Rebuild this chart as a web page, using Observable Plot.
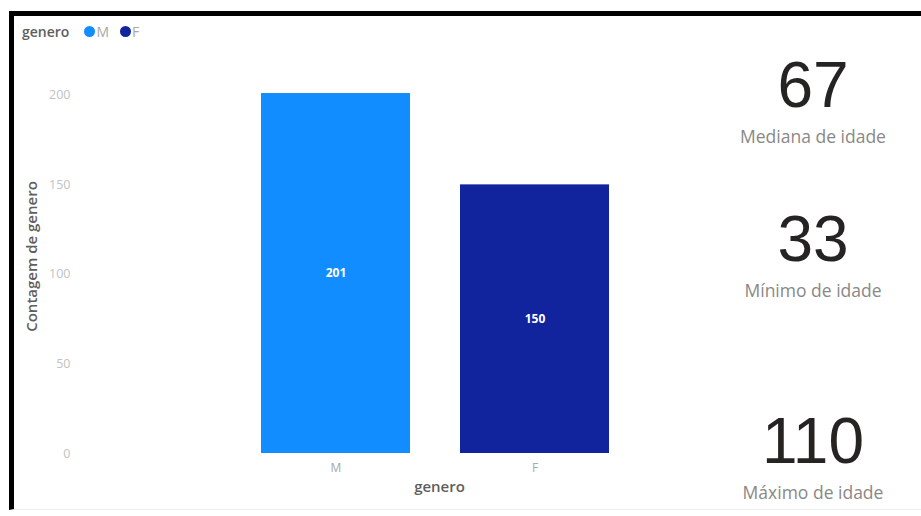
<!DOCTYPE html>
<html>
<head>
<meta charset="utf-8">
<script src="https://cdn.jsdelivr.net/npm/d3@7"></script>
<script src="https://cdn.jsdelivr.net/npm/@observablehq/plot@0.6"></script>
<style>
  html, body { margin: 0; padding: 0; background: #fff; }
  #wrap { position: relative; width: 921px; height: 516px; overflow: hidden; background: #fff; font-family: "Open Sans", "Noto Sans", sans-serif; }
  #frame { position: absolute; left: 9px; top: 11px; width: 940px; height: 499px; border-left: 5px solid #000; border-top: 5px solid #000; border-bottom: 1px solid #eeeeee; box-sizing: border-box; }
  #chart { position: absolute; left: 0; top: 0; }
  .legend { position: absolute; left: 22px; top: 22px; font-size: 14px; display: flex; align-items: center; white-space: nowrap; }
  .legend .ttl { font-weight: 600; color: #605e5c; margin-right: 15px; }
  .legend .dot { width: 11px; height: 11px; border-radius: 50%; display: inline-block; margin-right: 1px; }
  .legend .lab { color: #a8a8a8; margin-right: 11px; }
  .kpi { position: absolute; left: 713px; width: 200px; text-align: center; }
  .kpi .num { font-family: "Liberation Sans Narrow", "Liberation Sans", sans-serif; font-size: 64px; line-height: 64px; color: #252423; }
  .kpi .lbl { font-family: "Open Sans", sans-serif; font-size: 17.5px; line-height: 20px; color: #8a8886; margin-top: 9px; }
</style>
</head>
<body>
<div id="wrap">
  <div id="frame"></div>
  <div id="chart"></div>
  <div class="legend" id="legend"></div>
  <div id="kpis"></div>
</div>
<script>
// ---- data ----
const generos = ["M", "F"];
const contagens = [201, 150];
const cores = ["#118DFF", "#12239E"];
const yTicks = [0, 50, 100, 150, 200];
const kpiValores = ["67", "33", "110"];
const kpiRotulos = ["Mediana de idade", "Mínimo de idade", "Máximo de idade"];
const kpiTopos = [53, 207, 409];

const data = generos.map((g, i) => ({genero: g, contagem: contagens[i]}));

const chart = Plot.plot({
  width: 921,
  height: 516,
  marginLeft: 73,
  marginRight: 262,
  marginTop: 59,
  marginBottom: 63,
  style: { fontFamily: "Open Sans, Noto Sans, sans-serif", background: "transparent", overflow: "visible" },
  x: { domain: generos, padding: 0.25, insetLeft: 138 },
  y: { domain: [0, 220] },
  color: { domain: generos, range: cores },
  marks: [
    Plot.barY(data, { x: "genero", y: "contagem", fill: "genero" }),
    Plot.text(data, { x: "genero", y: d => d.contagem / 2, text: d => String(d.contagem), fill: "#ffffff", fontWeight: 700, fontSize: 12 }),
    Plot.axisY({ ticks: yTicks, tickSize: 0, tickPadding: 3, fontSize: 12.5, color: "#c2c2c2", label: "Contagem de genero", labelAnchor: "center", labelOffset: 47, labelArrow: "none" }),
    Plot.axisX({ tickSize: 0, tickPadding: 10, fontSize: 12, color: "#a8a8a8", label: null }),
    Plot.text(["genero"], { frameAnchor: "bottom", dx: 73, dy: 38, fontSize: 15, fontWeight: 600, fill: "#605e5c" })
  ]
});
document.getElementById("chart").appendChild(chart);
chart.querySelectorAll("text").forEach(t => {
  if (t.textContent === "Contagem de genero") { t.setAttribute("fill", "#605e5c"); t.setAttribute("font-weight", "600"); t.setAttribute("font-size", "15"); }
});

// legend
const lg = document.getElementById("legend");
lg.innerHTML = `<span class="ttl">genero</span>` + generos.map((g, i) =>
  `<span class="dot" style="background:${cores[i]}"></span><span class="lab">${g}</span>`).join("");

// KPI cards
const kp = document.getElementById("kpis");
kpiValores.forEach((v, i) => {
  const d = document.createElement("div");
  d.className = "kpi";
  d.style.top = kpiTopos[i] + "px";
  d.innerHTML = `<div class="num">${v}</div><div class="lbl">${kpiRotulos[i]}</div>`;
  kp.appendChild(d);
});
</script>
</body>
</html>
